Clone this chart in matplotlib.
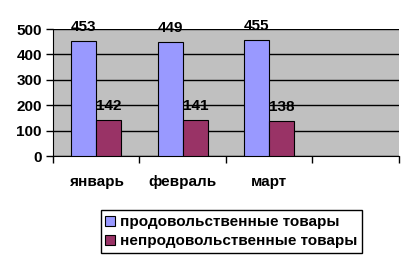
import matplotlib.pyplot as plt
import numpy as np

plt.rcParams['font.family'] = ['Liberation Sans', 'DejaVu Sans']
plt.rcParams['font.weight'] = 'bold'

months = ["январь", "февраль", "март", ""]
food = [453, 449, 455]
nonfood = [142, 141, 138]
series_names = ["продовольственные товары", "непродовольственные товары"]

fig = plt.figure(figsize=(4.15, 2.63), dpi=100)
ax = fig.add_axes([0.1277, 0.4068, 0.8337, 0.4829])
ax.set_facecolor("#C0C0C0")

x = np.arange(len(food))
w = 0.29
b1 = ax.bar(x - w / 2, food, w, color="#9999FF", edgecolor="black", linewidth=0.8,
            label=series_names[0], zorder=3)
b2 = ax.bar(x + w / 2, nonfood, w, color="#993366", edgecolor="black", linewidth=0.8,
            label=series_names[1], zorder=3)

for bars, vals in ((b1, food), (b2, nonfood)):
    for r, v in zip(bars, vals):
        ax.annotate(str(v), (r.get_x() + r.get_width() / 2, v), xytext=(0, 5),
                    textcoords="offset points", ha="center", va="bottom",
                    fontsize=11, fontweight="bold")

ax.set_xlim(-0.5, len(months) - 0.5)
ax.set_ylim(0, 500)
ax.set_yticks(range(0, 501, 100))
ax.yaxis.grid(True, color="black", linewidth=1)
ax.set_axisbelow(True)

# category labels under centers, tick marks at boundaries
ax.set_xticks(range(len(months)))
ax.set_xticklabels(months, fontsize=11, fontweight="bold")
ax.tick_params(axis="x", which="major", length=0, pad=14)
ax.set_xticks(np.arange(-0.5, len(months), 1), minor=True)
ax.tick_params(axis="x", which="minor", length=5, direction="out", width=1)
ax.tick_params(axis="y", length=5, width=1, labelsize=11, pad=3)
for t in ax.get_yticklabels():
    t.set_fontweight("bold")

ax.spines["top"].set_visible(False)
ax.spines["right"].set_visible(False)

fig.legend(loc="lower left", bbox_to_anchor=(0.243, 0.038), fontsize=11,
           frameon=True, fancybox=False, edgecolor="black", framealpha=1,
           handlelength=0.65, handleheight=0.65, handletextpad=0.3,
           borderpad=0.3, labelspacing=0.35, borderaxespad=0)

fig.savefig("out.png", dpi=100)
